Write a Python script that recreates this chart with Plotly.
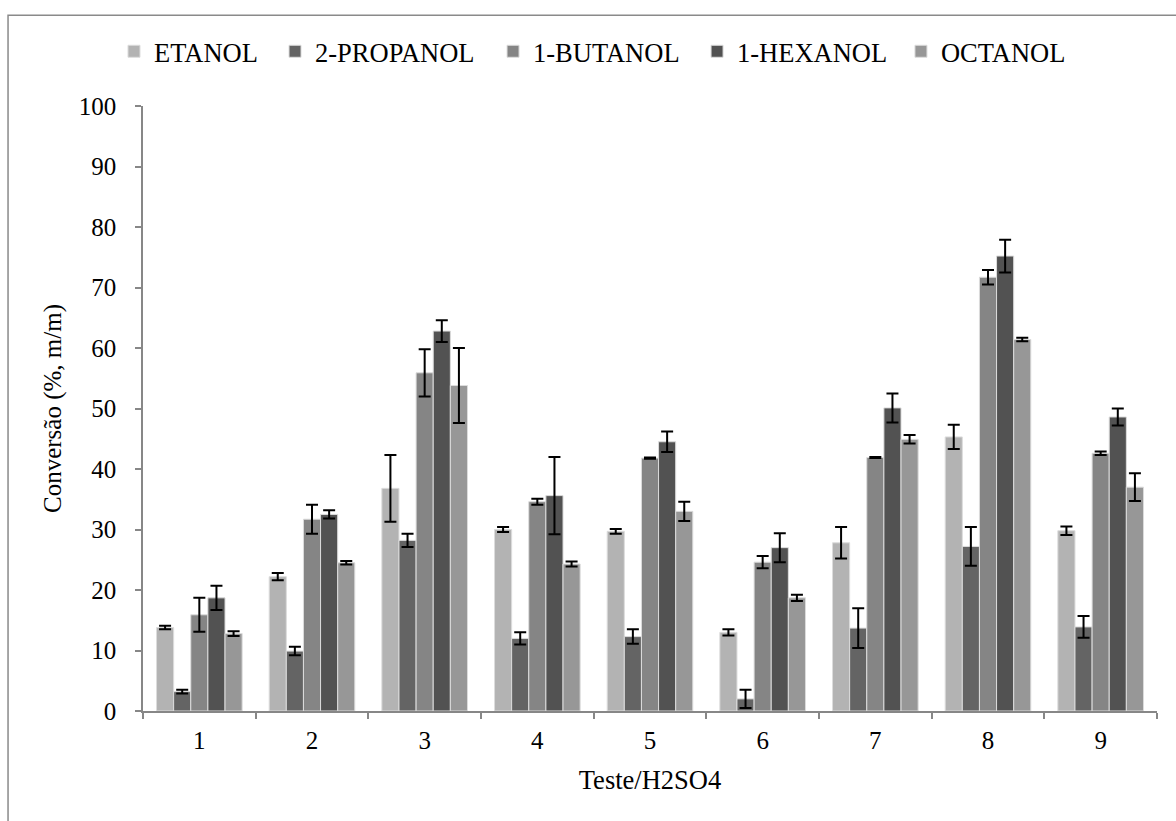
import plotly.graph_objects as go

categories = ["1", "2", "3", "4", "5", "6", "7", "8", "9"]
series_names = ["ETANOL", "2-PROPANOL", "1-BUTANOL", "1-HEXANOL", "OCTANOL"]

etanol = [13.8, 22.2, 36.8, 30.0, 29.7, 13.0, 27.8, 45.3, 29.8]
etanol_err = [0.3, 0.6, 5.5, 0.4, 0.4, 0.5, 2.6, 2.0, 0.7]
propanol = [3.2, 9.9, 28.2, 12.0, 12.3, 2.0, 13.7, 27.2, 13.9]
propanol_err = [0.3, 0.7, 1.1, 1.0, 1.2, 1.5, 3.3, 3.2, 1.8]
butanol = [15.9, 31.7, 55.9, 34.6, 41.8, 24.6, 41.9, 71.7, 42.6]
butanol_err = [2.8, 2.4, 3.9, 0.5, 0.1, 1.0, 0.1, 1.2, 0.3]
hexanol = [18.7, 32.5, 62.8, 35.6, 44.5, 27.0, 50.1, 75.2, 48.6]
hexanol_err = [2.0, 0.7, 1.8, 6.4, 1.7, 2.4, 2.4, 2.7, 1.4]
octanol = [12.8, 24.5, 53.8, 24.3, 33.0, 18.7, 44.9, 61.4, 37.0]
octanol_err = [0.4, 0.3, 6.2, 0.4, 1.6, 0.5, 0.7, 0.3, 2.3]

colors = ["#b3b3b3", "#646464", "#858585", "#525252", "#979797"]
values = [etanol, propanol, butanol, hexanol, octanol]
errors = [etanol_err, propanol_err, butanol_err, hexanol_err, octanol_err]

# horizontal positions (paper fraction) of each legend entry
legend_x = [-0.0286, 0.1302, 0.3452, 0.5464, 0.7475]
legend_ids = ["legend", "legend2", "legend3", "legend4", "legend5"]

FONT = "Liberation Serif"

fig = go.Figure()
for name, vals, errs, col, lid in zip(series_names, values, errors, colors, legend_ids):
    fig.add_trace(go.Bar(
        x=categories, y=vals, name=name, legend=lid,
        marker=dict(color=col, line=dict(color="#dcdcdc", width=1)),
        error_y=dict(type="data", array=errs, visible=True,
                     color="black", thickness=2, width=6),
    ))

legend_layout = {}
for lid, lx in zip(legend_ids, legend_x):
    legend_layout[lid] = dict(orientation="h", x=lx, xanchor="left", y=1.09, yanchor="middle",
                              font=dict(family=FONT, size=26.5), itemwidth=30,
                              bgcolor="rgba(0,0,0,0)", borderwidth=0)

fig.update_layout(
    width=1176, height=821,
    margin=dict(l=143, r=19, t=106, b=110),
    paper_bgcolor="white", plot_bgcolor="white",
    barmode="group", bargap=0.24, bargroupgap=0,
    font=dict(family=FONT, size=25, color="black"),
    showlegend=True,
    xaxis=dict(
        type="category", showgrid=False, showline=True, linecolor="#878787", linewidth=1.5,
        ticks="outside", ticklen=6, tickcolor="#878787", tickwidth=1.5, tickson="boundaries",
        tickfont=dict(family=FONT, size=25), ticklabelstandoff=6,
        title=dict(text="Teste/H2SO4", font=dict(family=FONT, size=26.5), standoff=18),
    ),
    yaxis=dict(
        range=[0, 100], dtick=10, showgrid=False, showline=True, linecolor="#878787",
        linewidth=1.5, ticks="outside", ticklen=6, tickcolor="#878787", tickwidth=1.5,
        tickfont=dict(family=FONT, size=25), ticklabelstandoff=14, zeroline=False,
        title=dict(text="Conversão (%, m/m)", font=dict(family=FONT, size=25), standoff=10),
    ),
    shapes=[dict(type="rect", xref="paper", yref="paper",
                 x0=-0.1331, x1=1.05, y0=-0.3, y1=1.150,
                 line=dict(color="#8a8a8a", width=1.5), fillcolor="rgba(0,0,0,0)",
                 layer="below")],
    **legend_layout,
)

fig.write_html("out.html")
